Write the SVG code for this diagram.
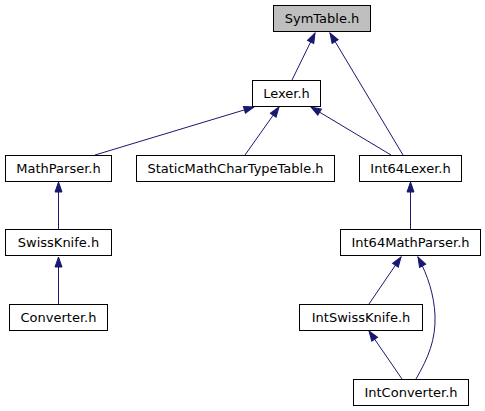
<svg xmlns="http://www.w3.org/2000/svg" width="485" height="411" viewBox="0 0 485 411">
<style>
.n rect{fill:#ffffff;stroke:#000000;stroke-width:1}
.root rect{fill:#bfbfbf}
.n text{font-family:"DejaVu Sans",sans-serif;font-size:13px;text-anchor:middle;fill:#000000}
.e{fill:none;stroke:#191970;stroke-width:1}
</style>
<defs>
<marker id="arr" markerUnits="userSpaceOnUse" markerWidth="12" markerHeight="10" refX="10" refY="3.5" orient="auto" overflow="visible">
<path d="M0,0 L10,3.5 L0,7 z" fill="#191970" stroke="#191970" stroke-width="1"/>
</marker>
</defs>
<g id="edges">
<path class="e" d="M292,80 L315,33" marker-end="url(#arr)"/>
<path class="e" d="M403,155 L330,33" marker-end="url(#arr)"/>
<path class="e" d="M95,155 L254,107" marker-end="url(#arr)"/>
<path class="e" d="M245,155 L279,107" marker-end="url(#arr)"/>
<path class="e" d="M391,155 L311,107" marker-end="url(#arr)"/>
<path class="e" d="M58.5,229 L58.5,182" marker-end="url(#arr)"/>
<path class="e" d="M58.5,304 L58.5,257" marker-end="url(#arr)"/>
<path class="e" d="M410.5,229 L410.5,182" marker-end="url(#arr)"/>
<path class="e" d="M369,304 L401,257" marker-end="url(#arr)"/>
<path class="e" d="M402,379 L369,331" marker-end="url(#arr)"/>
<path class="e" d="M416,379 C428,358 436,340 435,315 C434,295 428,276 418,257" marker-end="url(#arr)"/>
</g>
<g id="SymTable" class="n root"><rect x="273.5" y="5.5" width="97" height="26"/><text x="322" y="23">SymTable.h</text></g>
<g id="Lexer" class="n"><rect x="252.5" y="80.5" width="68" height="26"/><text x="286.5" y="98">Lexer.h</text></g>
<g id="MathParser" class="n"><rect x="5.5" y="155.5" width="106" height="26"/><text x="58.5" y="173">MathParser.h</text></g>
<g id="StaticMathCharTypeTable" class="n"><rect x="136.5" y="155.5" width="198" height="26"/><text x="235.5" y="173">StaticMathCharTypeTable.h</text></g>
<g id="Int64Lexer" class="n"><rect x="359.5" y="155.5" width="102" height="26"/><text x="410.5" y="173">Int64Lexer.h</text></g>
<g id="SwissKnife" class="n"><rect x="5.5" y="229.5" width="106" height="26"/><text x="58.5" y="247">SwissKnife.h</text></g>
<g id="Int64MathParser" class="n"><rect x="340.5" y="229.5" width="140" height="26"/><text x="410.5" y="247">Int64MathParser.h</text></g>
<g id="Converter" class="n"><rect x="9.5" y="304.5" width="98" height="26"/><text x="58.5" y="322">Converter.h</text></g>
<g id="IntSwissKnife" class="n"><rect x="299.5" y="304.5" width="123" height="26"/><text x="361" y="322">IntSwissKnife.h</text></g>
<g id="IntConverter" class="n"><rect x="353.5" y="379.5" width="115" height="26"/><text x="411" y="397">IntConverter.h</text></g>
</svg>
